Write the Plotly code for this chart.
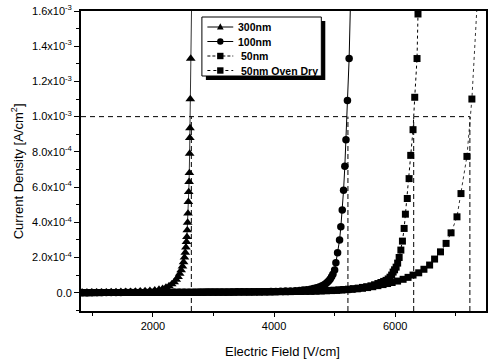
import plotly.graph_objects as go

# ---- data: current density (in units of 1e-3 A/cm^2) vs electric field (V/cm) ----
FIELD_300 = [830, 910, 990, 1070, 1150, 1230, 1310, 1390, 1470, 1550, 1630, 1710, 1790,
             1870, 1950, 2030, 2100, 2160, 2215, 2265, 2310, 2350, 2385, 2415, 2442, 2466,
             2488, 2506, 2521, 2534, 2545, 2554, 2561, 2567, 2573, 2579, 2585, 2591, 2597,
             2602, 2606, 2609, 2612, 2617, 2624, 2640]
J_300 = [0.002, 0.002, 0.002, 0.003, 0.003, 0.003, 0.004, 0.004, 0.005, 0.005, 0.006, 0.007,
         0.008, 0.009, 0.011, 0.014, 0.018, 0.023, 0.030, 0.038, 0.048, 0.060, 0.074, 0.090,
         0.108, 0.128, 0.150, 0.174, 0.200, 0.228, 0.258, 0.289, 0.317, 0.355, 0.398, 0.450,
         0.516, 0.572, 0.630, 0.680, 0.790, 0.880, 0.935, 1.100, 1.330, 1.680]

FIELD_100 = [830, 910, 990, 1070, 1150, 1230, 1310, 1390, 1470, 1550, 1630, 1710, 1790, 1870,
             1950, 2030, 2110, 2190, 2270, 2350, 2430, 2510, 2590, 2670, 2750, 2830, 2910,
             2990, 3070, 3150, 3230, 3310, 3390, 3470, 3550, 3630, 3710, 3790, 3870, 3950,
             4030, 4110, 4190, 4270, 4350, 4420, 4480, 4540, 4600, 4650, 4700, 4745, 4785,
             4820, 4852, 4880, 4905, 4928, 4950, 4972, 5000, 5021, 5049, 5082, 5103, 5126,
             5148, 5169, 5188, 5212, 5240, 5262]
J_100 = [0.000, 0.000, 0.001, 0.001, 0.001, 0.001, 0.001, 0.001, 0.001, 0.002, 0.002, 0.002,
         0.002, 0.002, 0.002, 0.002, 0.002, 0.003, 0.003, 0.003, 0.003, 0.003, 0.003, 0.003,
         0.003, 0.003, 0.004, 0.004, 0.004, 0.004, 0.004, 0.004, 0.005, 0.005, 0.005, 0.005,
         0.006, 0.006, 0.006, 0.007, 0.007, 0.008, 0.009, 0.010, 0.011, 0.013, 0.015, 0.017,
         0.020, 0.024, 0.028, 0.033, 0.038, 0.044, 0.051, 0.059, 0.068, 0.078, 0.091, 0.105,
         0.129, 0.170, 0.227, 0.299, 0.374, 0.469, 0.582, 0.718, 0.869, 1.092, 1.330, 1.650]

FIELD_50 = [830, 910, 990, 1070, 1150, 1230, 1310, 1390, 1470, 1550, 1630, 1710, 1790, 1870,
            1950, 2030, 2110, 2190, 2270, 2350, 2430, 2510, 2590, 2670, 2750, 2830, 2910,
            2990, 3070, 3150, 3230, 3310, 3390, 3470, 3550, 3630, 3710, 3790, 3870, 3950,
            4030, 4110, 4190, 4270, 4350, 4430, 4510, 4590, 4670, 4750, 4830, 4910, 4990,
            5070, 5150, 5230, 5310, 5390, 5460, 5530, 5600, 5660, 5715, 5765, 5810, 5850,
            5885, 5915, 5942, 5966, 5990, 6016, 6041, 6066, 6094, 6120, 6148, 6169, 6200,
            6230, 6257, 6295, 6323, 6361, 6377, 6390]
J_50 = [0.000, 0.000, 0.000, 0.001, 0.001, 0.001, 0.001, 0.001, 0.001, 0.001, 0.001, 0.001,
        0.001, 0.001, 0.002, 0.002, 0.002, 0.002, 0.002, 0.002, 0.002, 0.002, 0.002, 0.002,
        0.003, 0.003, 0.003, 0.003, 0.003, 0.003, 0.003, 0.004, 0.004, 0.004, 0.004, 0.004,
        0.005, 0.005, 0.005, 0.005, 0.006, 0.006, 0.006, 0.007, 0.007, 0.008, 0.008, 0.009,
        0.010, 0.011, 0.012, 0.013, 0.014, 0.016, 0.018, 0.020, 0.023, 0.026, 0.030, 0.034,
        0.039, 0.045, 0.052, 0.058, 0.064, 0.070, 0.078, 0.088, 0.100, 0.117, 0.130, 0.145,
        0.168, 0.200, 0.242, 0.293, 0.365, 0.446, 0.535, 0.648, 0.780, 0.926, 1.110, 1.330,
        1.583, 1.800]

FIELD_OVEN = [870, 955, 1040, 1125, 1210, 1295, 1380, 1465, 1550, 1635, 1720, 1805, 1890,
              1975, 2060, 2145, 2230, 2315, 2400, 2485, 2570, 2655, 2740, 2825, 2910, 2995,
              3080, 3165, 3250, 3335, 3420, 3505, 3590, 3675, 3760, 3845, 3930, 4015, 4100,
              4185, 4270, 4355, 4440, 4525, 4610, 4695, 4780, 4865, 4950, 5035, 5120, 5205,
              5290, 5375, 5460, 5545, 5630, 5715, 5800, 5875, 5950, 6040, 6131, 6213, 6295,
              6389, 6475, 6569, 6651, 6749, 6841, 6923, 7021, 7087, 7185, 7267, 7355]
J_OVEN = [0.000, 0.000, 0.000, 0.000, 0.001, 0.001, 0.001, 0.001, 0.001, 0.001, 0.001, 0.001,
          0.001, 0.001, 0.002, 0.002, 0.002, 0.002, 0.002, 0.002, 0.002, 0.002, 0.002, 0.003,
          0.003, 0.003, 0.003, 0.003, 0.003, 0.003, 0.004, 0.004, 0.004, 0.004, 0.004, 0.005,
          0.005, 0.005, 0.006, 0.006, 0.006, 0.007, 0.007, 0.008, 0.008, 0.009, 0.010, 0.011,
          0.012, 0.013, 0.015, 0.017, 0.019, 0.022, 0.025, 0.029, 0.034, 0.040, 0.046, 0.052,
          0.058, 0.066, 0.076, 0.087, 0.100, 0.113, 0.133, 0.157, 0.191, 0.232, 0.280, 0.340,
          0.431, 0.563, 0.774, 1.100, 1.650]

SERIES = ["300nm", "100nm", "50nm", "50nm Oven Dry"]

# reference level (1.0x10^-3 A/cm^2) and the field at which each film reaches it
THRESHOLD_J = 1.0
THRESHOLD_FIELD = [2634, 5220, 6306, 7234]

Y_TICKS = [0.0, 0.2, 0.4, 0.6, 0.8, 1.0, 1.2, 1.4, 1.6]
Y_TICK_TEXT = ["0.0", "2.0x10<sup>-4</sup>", "4.0x10<sup>-4</sup>", "6.0x10<sup>-4</sup>",
               "8.0x10<sup>-4</sup>", "1.0x10<sup>-3</sup>", "1.2x10<sup>-3</sup>",
               "1.4x10<sup>-3</sup>", "1.6x10<sup>-3</sup>"]

X_RANGE = [812, 7500]
Y_RANGE = [-0.104, 1.6]

FONT = "Liberation Sans, Arial, sans-serif"
INK = "#000000"

styles = [
    dict(symbol="triangle-up", size=8.5, dash="solid", width=0.8),
    dict(symbol="circle", size=7.5, dash="solid", width=1.0),
    dict(symbol="square", size=7, dash="dot", width=1.0),
    dict(symbol="square", size=7, dash="dot", width=0.8),
]
fields = [FIELD_300, FIELD_100, FIELD_50, FIELD_OVEN]
currents = [J_300, J_100, J_50, J_OVEN]

fig = go.Figure()

for name, fx, jy, st in zip(SERIES, fields, currents, styles):
    fig.add_trace(go.Scatter(
        x=fx, y=jy, name=name, mode="lines+markers", showlegend=False,
        line=dict(color=INK, width=st["width"], dash=st["dash"]),
        marker=dict(symbol=st["symbol"], size=st["size"], color=INK, line=dict(width=0)),
    ))

# dashed guides: horizontal level line and vertical drops to the axis
shapes = [dict(type="line", xref="x", yref="y", x0=X_RANGE[0], x1=THRESHOLD_FIELD[-1],
               y0=THRESHOLD_J, y1=THRESHOLD_J, line=dict(color=INK, width=1, dash="5px,4px"))]
for fx in THRESHOLD_FIELD:
    shapes.append(dict(type="line", xref="x", yref="y", x0=fx, x1=fx, y0=Y_RANGE[0],
                       y1=THRESHOLD_J, line=dict(color=INK, width=1, dash="5px,3px")))

# ---- hand-drawn legend (page-pixel layout converted to paper coordinates) ----
PLOT_L, PLOT_R, PLOT_T, PLOT_B = 81, 488, 11, 311


def px(x):
    return (x - PLOT_L) / (PLOT_R - PLOT_L)


def py(y):
    return (PLOT_B - y) / (PLOT_B - PLOT_T)


BOX = (202.5, 322.5, 17, 76)
SHADOW_OFFSET = 4
ROWS = [27, 41.5, 56, 70.5]
TEXT_X = [236.5, 236.5, 240, 240]
SAMPLE_X = (208, 221, 234)

bx0, bx1, by0, by1 = BOX
shapes.append(dict(type="rect", xref="paper", yref="paper", layer="above",
                   x0=px(bx0 + SHADOW_OFFSET), x1=px(bx1 + SHADOW_OFFSET),
                   y0=py(by1 + SHADOW_OFFSET), y1=py(by0 + SHADOW_OFFSET),
                   fillcolor=INK, line=dict(width=0)))
shapes.append(dict(type="rect", xref="paper", yref="paper", layer="above",
                   x0=px(bx0), x1=px(bx1), y0=py(by1), y1=py(by0),
                   fillcolor="white", line=dict(color=INK, width=1)))


def marker_path(symbol, cx, cy, r):
    if symbol == "triangle-up":
        pts = [(cx, cy - r * 1.15), (cx + r * 1.05, cy + r * 0.75), (cx - r * 1.05, cy + r * 0.75)]
    elif symbol == "square":
        pts = [(cx - r, cy - r), (cx + r, cy - r), (cx + r, cy + r), (cx - r, cy + r)]
    else:
        return None
    return "M " + " L ".join(f"{px(x):.5f},{py(y):.5f}" for x, y in pts) + " Z"


legend_dash = ["solid", "solid", "3px,2px", "dot"]
annotations = []
for name, st, ry, tx, dsh in zip(SERIES, styles, ROWS, TEXT_X, legend_dash):
    shapes.append(dict(type="line", xref="paper", yref="paper", layer="above",
                       x0=px(SAMPLE_X[0]), x1=px(SAMPLE_X[2]), y0=py(ry), y1=py(ry),
                       line=dict(color=INK, width=1, dash=dsh)))
    r = 3.2
    if st["symbol"] == "circle":
        shapes.append(dict(type="circle", xref="paper", yref="paper", layer="above",
                           x0=px(SAMPLE_X[1] - r), x1=px(SAMPLE_X[1] + r),
                           y0=py(ry + r), y1=py(ry - r), fillcolor=INK, line=dict(width=0)))
    else:
        shapes.append(dict(type="path", xref="paper", yref="paper", layer="above",
                           path=marker_path(st["symbol"], SAMPLE_X[1], ry, r),
                           fillcolor=INK, line=dict(width=0)))
    annotations.append(dict(x=px(tx), y=py(ry), xref="paper", yref="paper",
                            text="<b>" + name + "</b>", showarrow=False,
                            xanchor="left", yanchor="middle",
                            font=dict(family=FONT, size=10.5, color=INK)))

# axis titles
annotations.append(dict(x=px(17), y=py(171), xref="paper", yref="paper",
                        text="Current Density [A/cm<sup>2</sup>]",
                        textangle=-90, showarrow=False, xanchor="center", yanchor="middle",
                        font=dict(family=FONT, size=13, color=INK)))
annotations.append(dict(x=px(283), y=py(351), xref="paper", yref="paper",
                        text="Electric Field [V/cm]",
                        showarrow=False, xanchor="center", yanchor="middle",
                        font=dict(family=FONT, size=13, color=INK)))

fig.update_layout(
    width=489, height=360,
    margin=dict(l=PLOT_L, r=489 - PLOT_R, t=PLOT_T, b=360 - PLOT_B, pad=0),
    paper_bgcolor="white", plot_bgcolor="white",
    showlegend=False,
    font=dict(family=FONT, size=11, color=INK),
    shapes=shapes,
    annotations=annotations,
    xaxis=dict(range=X_RANGE, tickmode="linear", tick0=0, dtick=2000,
               ticks="outside", ticklen=4, tickwidth=1, tickcolor=INK,
               minor=dict(tickmode="linear", tick0=0, dtick=1000, ticks="outside",
                          ticklen=3, tickcolor=INK),
               showline=True, linecolor=INK, linewidth=1.5, mirror=True,
               showgrid=False, zeroline=False, tickfont=dict(family=FONT, size=11, color=INK)),
    yaxis=dict(range=Y_RANGE, tickmode="array", tickvals=Y_TICKS, ticktext=Y_TICK_TEXT,
               ticks="outside", ticklen=5, tickwidth=1, tickcolor=INK,
               minor=dict(tickmode="linear", tick0=0, dtick=0.1, ticks="outside",
                          ticklen=3, tickcolor=INK),
               showline=True, linecolor=INK, linewidth=1.8, mirror=True,
               showgrid=False, zeroline=False, tickfont=dict(family=FONT, size=11, color=INK)),
)

fig.write_html("out.html")
